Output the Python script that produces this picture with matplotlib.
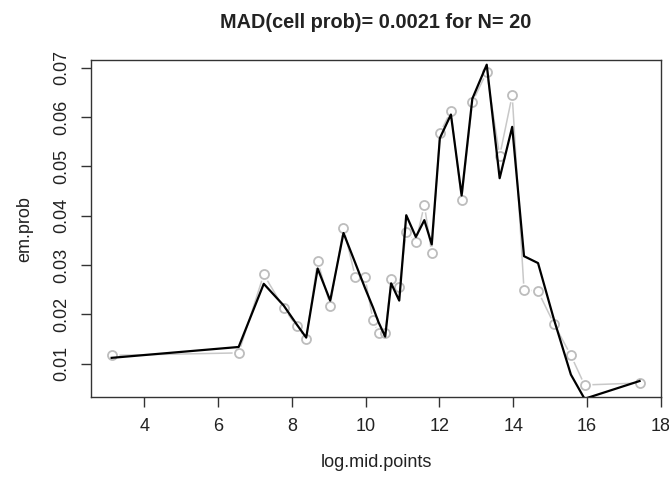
"""
Empirical vs fitted cell probabilities over log mid points
"""
import matplotlib
matplotlib.use('Agg')
import matplotlib.pyplot as plt

plt.rcParams['font.family'] = ['Liberation Sans', 'DejaVu Sans']

# Log of the cell mid points
log_mid_points = [3.12, 6.56, 7.24, 7.78, 8.13, 8.39, 8.70, 9.04, 9.40, 9.72,
                  9.98, 10.20, 10.35, 10.53, 10.69, 10.91, 11.10, 11.36, 11.59,
                  11.79, 12.01, 12.31, 12.60, 12.89, 13.28, 13.63, 13.97, 14.29,
                  14.67, 15.10, 15.56, 15.93, 17.42]

# Empirical cell probabilities (grey points)
em_prob = [0.0117, 0.0122, 0.0281, 0.0213, 0.0176, 0.0151, 0.0308, 0.0218,
           0.0376, 0.0276, 0.0276, 0.0188, 0.0162, 0.0163, 0.0271, 0.0255,
           0.0367, 0.0347, 0.0422, 0.0324, 0.0567, 0.0612, 0.0431, 0.0630,
           0.0691, 0.0521, 0.0644, 0.0250, 0.0247, 0.0181, 0.0117, 0.0057,
           0.0061]

# Model cell probabilities (black line)
fit_prob = [0.0112, 0.0134, 0.0262, 0.0218, 0.0180, 0.0153, 0.0293, 0.0228,
            0.0365, 0.0304, 0.0254, 0.0214, 0.0184, 0.0155, 0.0263, 0.0228,
            0.0401, 0.0357, 0.0391, 0.0342, 0.0557, 0.0605, 0.0441, 0.0637,
            0.0706, 0.0476, 0.0580, 0.0318, 0.0304, 0.0190, 0.0078, 0.0029,
            0.0065]

mad = 0.0021
n_runs = 20

fig = plt.figure(figsize=(6.69, 4.82), dpi=100)
ax = fig.add_axes([0.136, 0.176, 0.852, 0.699])

# type="b" style: grey line broken around the open circles
ax.plot(log_mid_points, em_prob, color='#c8c8c8', lw=1.1, zorder=1)
ax.plot(log_mid_points, em_prob, ls='none', marker='o', ms=9,
        mfc='white', mec='white', zorder=2)
ax.plot(log_mid_points, em_prob, ls='none', marker='o', ms=6.5,
        mfc='none', mec='#bdbdbd', mew=1.3, zorder=3)
ax.plot(log_mid_points, fit_prob, color='black', lw=1.6, zorder=4)

ax.set_xlim(2.56, 18.0)
ax.set_ylim(0.00323, 0.0715)
ax.set_xticks([4, 6, 8, 10, 12, 14, 16, 18])
ax.set_yticks([0.01, 0.02, 0.03, 0.04, 0.05, 0.06, 0.07])
ax.set_yticklabels(['0.01', '0.02', '0.03', '0.04', '0.05', '0.06', '0.07'],
                   rotation=90, va='center')

for s in ax.spines.values():
    s.set_color('#333333')
    s.set_linewidth(1.0)
ax.tick_params(direction='out', length=7, width=1.0, color='#333333',
               labelsize=13, labelcolor='#222222')
ax.tick_params(axis='x', pad=8)
ax.tick_params(axis='y', pad=8)

ax.set_xlabel('log.mid.points', fontsize=13, color='#222222', labelpad=14)
ax.set_ylabel('em.prob', fontsize=13, color='#222222', labelpad=14)
ax.set_title('MAD(cell prob)= %.4f for N= %d' % (mad, n_runs),
             fontsize=14.3, fontweight='bold', color='#222222', pad=23)

fig.savefig('out.png', dpi=100)
